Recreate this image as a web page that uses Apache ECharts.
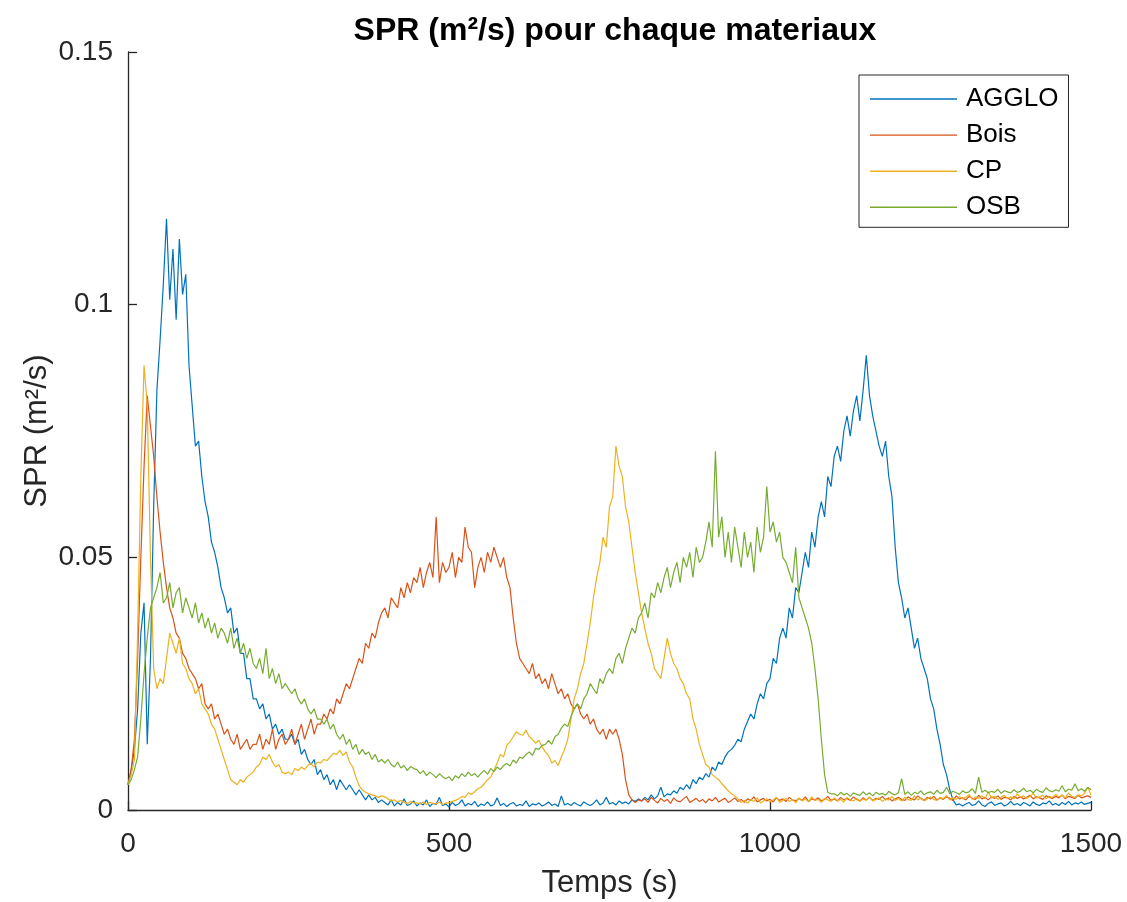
<!DOCTYPE html>
<html>
<head>
<meta charset="utf-8">
<script src="https://cdn.jsdelivr.net/npm/echarts@6/dist/echarts.min.js"></script>
<style>
html,body{margin:0;padding:0;background:#fff;}
#chart{width:1127px;height:902px;}
</style>
</head>
<body>
<div id="chart"></div>
<script>
// Sampling step of the time axis (s)
const TIME_STEP = 5;
const SERIES_NAMES = ['AGGLO', 'Bois', 'CP', 'OSB'];
const X_TICKS = [0, 500, 1000, 1500];
const Y_TICKS = [0, 0.05, 0.1, 0.15];

const AGGLO = [
0.005,0.008,0.012,0.02,0.035,0.041,0.013,0.03,0.06,0.083,
0.093,0.104,0.117,0.101,0.111,0.097,0.113,0.102,0.106,0.088,
0.080,0.072,0.073,0.066,0.061,0.058,0.053,0.051,0.048,0.044,
0.042,0.039,0.040,0.035,0.036,0.031,0.031,0.026,0.026,0.022,
0.022,0.020,0.021,0.018,0.019,0.016,0.017,0.015,0.016,0.014,
0.014,0.015,0.013,0.014,0.011,0.012,0.010,0.009,0.010,0.007,
0.008,0.006,0.007,0.005,0.006,0.004,0.006,0.005,0.004,0.005,
0.004,0.003,0.004,0.003,0.002,0.003,0.002,0.0025,0.0015,0.002,
0.0015,0.001,0.002,0.0008,0.0015,0.001,0.0022,0.0009,0.0012,0.0018,
0.0008,0.0014,0.001,0.002,0.0007,0.0013,0.0011,0.0025,0.0009,0.0012,
0.0006,0.0015,0.0009,0.0012,0.002,0.0008,0.0013,0.001,0.0017,0.0007,
0.0012,0.0009,0.0016,0.0008,0.0011,0.0024,0.0009,0.0013,0.0007,0.0012,
0.0015,0.0008,0.0011,0.0009,0.0018,0.0007,0.0012,0.001,0.0014,0.0008,
0.0011,0.0016,0.0009,0.0012,0.0007,0.0028,0.001,0.0013,0.0009,0.0015,
0.0011,0.0008,0.0016,0.0012,0.0009,0.0013,0.002,0.001,0.0014,0.0025,
0.0012,0.0015,0.001,0.0018,0.0013,0.0016,0.0012,0.002,0.0017,0.0022,
0.0018,0.0025,0.002,0.003,0.0022,0.0028,0.0045,0.0026,0.0032,0.003,
0.0038,0.0033,0.0045,0.004,0.005,0.0042,0.006,0.0052,0.0065,0.006,
0.0072,0.0065,0.0085,0.0078,0.0095,0.009,0.0105,0.0115,0.012,0.0128,
0.014,0.0135,0.016,0.0175,0.019,0.018,0.021,0.023,0.022,0.025,
0.026,0.030,0.029,0.034,0.036,0.034,0.040,0.038,0.044,0.043,
0.047,0.051,0.048,0.055,0.052,0.058,0.061,0.058,0.066,0.064,
0.070,0.072,0.069,0.075,0.078,0.074,0.079,0.082,0.077,0.083,
0.090,0.082,0.078,0.075,0.072,0.070,0.073,0.066,0.062,0.052,
0.045,0.042,0.038,0.040,0.036,0.032,0.034,0.030,0.028,0.026,
0.022,0.020,0.016,0.013,0.009,0.007,0.004,0.002,0.001,0.0012,
0.0008,0.0012,0.0015,0.0009,0.0011,0.0018,0.001,0.0007,0.0013,0.0016,
0.0009,0.0012,0.0014,0.0008,0.0011,0.0017,0.001,0.0013,0.0009,0.0015,
0.0012,0.0008,0.0016,0.0011,0.0009,0.0014,0.0012,0.0018,0.001,0.0013,
0.0009,0.0015,0.0011,0.0017,0.001,0.0014,0.0012,0.0016,0.0011,0.0013,
0.0015
];

const BOIS = [
0.005,0.008,0.014,0.03,0.05,0.068,0.082,0.076,0.07,0.062,
0.055,0.049,0.044,0.040,0.038,0.035,0.034,0.031,0.030,0.028,
0.027,0.026,0.024,0.025,0.021,0.020,0.021,0.018,0.019,0.017,
0.015,0.016,0.014,0.013,0.015,0.012,0.013,0.014,0.012,0.013,
0.013,0.015,0.012,0.014,0.013,0.016,0.012,0.014,0.015,0.013,
0.014,0.016,0.013,0.015,0.017,0.014,0.016,0.018,0.015,0.017,
0.017,0.019,0.018,0.020,0.019,0.022,0.021,0.023,0.025,0.024,
0.026,0.028,0.030,0.029,0.033,0.032,0.035,0.034,0.037,0.039,
0.040,0.038,0.042,0.041,0.040,0.044,0.042,0.045,0.043,0.046,
0.045,0.048,0.044,0.047,0.049,0.046,0.058,0.045,0.049,0.047,
0.048,0.051,0.046,0.050,0.049,0.056,0.052,0.051,0.044,0.048,
0.050,0.047,0.051,0.049,0.052,0.050,0.048,0.050,0.046,0.044,
0.038,0.033,0.030,0.029,0.028,0.027,0.029,0.026,0.027,0.025,
0.026,0.024,0.027,0.025,0.023,0.024,0.022,0.023,0.021,0.020,
0.021,0.019,0.018,0.019,0.017,0.018,0.016,0.015,0.016,0.014,
0.016,0.015,0.016,0.014,0.011,0.006,0.003,0.002,0.0015,0.002,
0.0018,0.0022,0.0015,0.0025,0.0019,0.0014,0.0023,0.0017,0.0021,0.0013,
0.0024,0.0018,0.0016,0.0022,0.0027,0.0015,0.0019,0.0023,0.0017,0.0021,
0.0014,0.0022,0.0018,0.0025,0.0016,0.002,0.0023,0.0015,0.0019,0.0024,
0.0017,0.0021,0.0015,0.0022,0.0019,0.0026,0.0016,0.002,0.0023,0.0018,
0.0021,0.0016,0.0024,0.0019,0.0022,0.0017,0.0025,0.002,0.0018,0.0023,
0.0019,0.0026,0.0017,0.0022,0.002,0.0024,0.0018,0.0021,0.0027,0.0019,
0.0022,0.0018,0.0025,0.002,0.0023,0.0019,0.0026,0.0021,0.0018,0.0024,
0.002,0.0025,0.0019,0.0023,0.0021,0.0027,0.002,0.0024,0.0018,0.0022,
0.0025,0.0021,0.0019,0.0026,0.0022,0.002,0.0028,0.0023,0.0019,0.0025,
0.0022,0.0027,0.002,0.0024,0.0021,0.0026,0.0023,0.0019,0.0028,0.0022,
0.0024,0.002,0.0027,0.0023,0.0021,0.0029,0.0022,0.0025,0.002,0.0026,
0.0023,0.0028,0.0021,0.0025,0.0024,0.002,0.0027,0.0023,0.0026,0.0022,
0.0025,0.0029,0.0022,0.0026,0.0024,0.0021,0.0028,0.0025,0.0023,0.0027,
0.0024,0.003,0.0022,0.0027,0.0025,0.0023,0.0029,0.0024,0.0026,0.0028,
0.0025
];

const CP = [
0.005,0.007,0.01,0.035,0.066,0.088,0.08,0.05,0.028,0.024,
0.026,0.025,0.03,0.035,0.033,0.031,0.034,0.029,0.028,0.026,
0.025,0.023,0.024,0.021,0.020,0.019,0.017,0.016,0.014,0.012,
0.010,0.008,0.006,0.0055,0.005,0.006,0.0055,0.0065,0.007,0.0075,
0.0085,0.009,0.0105,0.01,0.011,0.0095,0.0085,0.009,0.0075,0.0072,
0.0075,0.007,0.0082,0.0078,0.0085,0.008,0.0088,0.0092,0.0085,0.0095,
0.0093,0.01,0.0098,0.0105,0.0112,0.011,0.0118,0.0108,0.0115,0.0095,
0.0085,0.0065,0.0048,0.004,0.0035,0.0032,0.003,0.0028,0.0025,0.0028,
0.0026,0.0022,0.0018,0.002,0.0016,0.0019,0.0015,0.0013,0.0017,0.0014,
0.0014,0.0012,0.0016,0.0011,0.0015,0.0013,0.0012,0.0016,0.0011,0.0014,
0.0014,0.0017,0.0019,0.0022,0.0027,0.0025,0.0034,0.0031,0.0036,0.0042,
0.0045,0.0052,0.006,0.0065,0.0078,0.0093,0.011,0.0105,0.0128,0.0135,
0.0145,0.0155,0.015,0.0148,0.0158,0.0145,0.014,0.0132,0.0138,0.0125,
0.0115,0.0108,0.0093,0.0098,0.0088,0.0105,0.012,0.014,0.018,0.022,
0.024,0.027,0.029,0.033,0.037,0.042,0.046,0.049,0.054,0.052,
0.060,0.062,0.072,0.068,0.066,0.060,0.057,0.052,0.047,0.043,
0.039,0.036,0.033,0.031,0.028,0.027,0.026,0.030,0.034,0.031,
0.029,0.028,0.026,0.025,0.023,0.022,0.018,0.016,0.013,0.011,
0.009,0.0085,0.007,0.0065,0.006,0.0052,0.0045,0.0038,0.0032,0.0028,
0.0022,0.0015,0.0019,0.0013,0.0021,0.0017,0.0024,0.0014,0.0018,0.0022,
0.0016,0.002,0.0025,0.0015,0.0019,0.0023,0.0017,0.0021,0.0014,0.0024,
0.0018,0.0022,0.0016,0.0026,0.0019,0.0021,0.0015,0.0023,0.002,0.0017,
0.0024,0.0018,0.0021,0.0016,0.0025,0.002,0.0018,0.0023,0.0017,0.0022,
0.0019,0.0026,0.0018,0.0021,0.0024,0.0017,0.0022,0.002,0.0027,0.0019,
0.0023,0.0018,0.0025,0.0021,0.0019,0.0028,0.002,0.0024,0.0018,0.0022,
0.0026,0.0021,0.0019,0.0025,0.0022,0.0029,0.002,0.0024,0.0021,0.0027,
0.0022,0.0025,0.0031,0.0021,0.0026,0.0023,0.0028,0.0022,0.0036,0.0024,
0.0027,0.0021,0.0025,0.0029,0.0023,0.0026,0.0022,0.0032,0.0025,0.0028,
0.0023,0.0027,0.0033,0.0024,0.0026,0.0029,0.0022,0.0027,0.0025,0.0031,
0.0026,0.0029,0.0024,0.0034,0.0027,0.0025,0.003,0.0028,0.0033,0.0045,
0.003
];

const OSB = [
0.005,0.006,0.008,0.0105,0.018,0.027,0.034,0.04,0.042,0.044,
0.047,0.041,0.042,0.045,0.040,0.043,0.044,0.039,0.042,0.040,
0.038,0.041,0.037,0.039,0.036,0.038,0.035,0.037,0.034,0.036,
0.035,0.033,0.036,0.032,0.034,0.031,0.033,0.030,0.032,0.029,
0.028,0.030,0.027,0.032,0.026,0.028,0.025,0.027,0.024,0.025,
0.024,0.023,0.024,0.022,0.021,0.022,0.020,0.019,0.020,0.018,
0.018,0.017,0.018,0.016,0.017,0.015,0.014,0.015,0.013,0.014,
0.012,0.013,0.011,0.012,0.011,0.0115,0.010,0.011,0.0095,0.010,
0.0093,0.010,0.009,0.0085,0.0095,0.0083,0.0088,0.0078,0.0086,0.0082,
0.008,0.0072,0.0078,0.0068,0.0075,0.007,0.0064,0.0072,0.0066,0.0062,
0.0066,0.0058,0.0068,0.0063,0.0072,0.0066,0.0075,0.0068,0.0072,0.0065,
0.0073,0.0078,0.0071,0.0082,0.0076,0.0085,0.008,0.0088,0.0092,0.0087,
0.0099,0.0093,0.0105,0.0102,0.011,0.0115,0.0108,0.0122,0.012,0.0128,
0.013,0.0138,0.013,0.0145,0.015,0.0162,0.017,0.0165,0.0185,0.02,
0.021,0.020,0.022,0.023,0.025,0.024,0.023,0.026,0.025,0.027,
0.028,0.027,0.030,0.031,0.029,0.032,0.034,0.036,0.035,0.038,
0.039,0.041,0.038,0.043,0.042,0.045,0.043,0.046,0.048,0.044,
0.047,0.049,0.045,0.050,0.048,0.051,0.046,0.052,0.049,0.050,
0.053,0.057,0.052,0.071,0.054,0.058,0.050,0.055,0.049,0.056,
0.052,0.048,0.055,0.050,0.053,0.047,0.056,0.051,0.054,0.064,
0.055,0.057,0.053,0.055,0.050,0.049,0.047,0.045,0.052,0.042,
0.040,0.038,0.036,0.033,0.028,0.022,0.014,0.007,0.0035,0.0032,
0.0032,0.0028,0.0035,0.003,0.0033,0.0027,0.0034,0.0031,0.0029,0.0036,
0.003,0.0034,0.0028,0.0035,0.0031,0.0033,0.0029,0.0037,0.0032,0.003,
0.0034,0.0062,0.0031,0.0036,0.0029,0.0035,0.0032,0.0038,0.003,0.0034,
0.0036,0.0031,0.0039,0.0033,0.0035,0.0045,0.0032,0.0037,0.0034,0.0031,
0.0038,0.0034,0.0036,0.0042,0.0033,0.0065,0.0035,0.0039,0.0034,0.0037,
0.0035,0.0041,0.0033,0.0038,0.0036,0.0034,0.004,0.0035,0.0037,0.0043,
0.0036,0.0039,0.0034,0.0041,0.0037,0.0035,0.0044,0.0038,0.0036,0.004,
0.0037,0.0048,0.0036,0.0041,0.0039,0.0052,0.0038,0.0042,0.0037,0.0045,
0.004
];

const COLORS = ['#0072BD', '#D95319', '#EDB120', '#77AC30'];
const VALUES = [AGGLO, BOIS, CP, OSB];
const FONT = '"Liberation Sans", Arial, Helvetica, sans-serif';
const INK = '#262626';

function toPairs(arr) {
  return arr.map((v, i) => [i * TIME_STEP, v]);
}

const chart = echarts.init(document.getElementById('chart'), null, {renderer: 'canvas'});
chart.setOption({
  animation: false,
  backgroundColor: '#fff',
  title: {
    text: 'SPR (m²/s) pour chaque materiaux',
    left: 610, top: 10, textAlign: 'center',
    textStyle: {fontFamily: FONT, fontSize: 32, fontWeight: 'bold', color: '#000'}
  },
  grid: {left: 128, right: 36, top: 52, bottom: 92, containLabel: false, outerBoundsMode: 'none'},
  legend: {
    orient: 'vertical',
    left: 859, top: 75,
    padding: [11, 10, 7, 11],
    icon: 'rect',
    itemWidth: 87, itemHeight: 1.4, itemGap: 10.1,
    borderColor: INK, borderWidth: 1, backgroundColor: '#fff',
    textStyle: {fontFamily: FONT, fontSize: 26, color: '#000', padding: [0, 0, 0, 4]},
    data: SERIES_NAMES
  },
  xAxis: {
    type: 'value', min: X_TICKS[0], max: X_TICKS[X_TICKS.length - 1], interval: 500,
    name: 'Temps (s)', nameLocation: 'middle', nameGap: 58, nameMoveOverlap: false,
    nameTextStyle: {fontFamily: FONT, fontSize: 31, color: INK},
    axisLine: {lineStyle: {color: INK, width: 1.3}},
    axisTick: {inside: true, length: 9, lineStyle: {color: INK, width: 1.3}},
    axisLabel: {fontFamily: FONT, fontSize: 28, color: INK, margin: 20,
      formatter: v => String(v)},
    splitLine: {show: false}
  },
  yAxis: {
    type: 'value', min: Y_TICKS[0], max: Y_TICKS[Y_TICKS.length - 1], interval: 0.05,
    name: 'SPR (m²/s)', nameLocation: 'middle', nameGap: 75, nameMoveOverlap: false,
    nameTextStyle: {fontFamily: FONT, fontSize: 31, color: INK},
    axisLine: {show: true, lineStyle: {color: INK, width: 1.3}},
    axisTick: {show: true, inside: true, length: 9, lineStyle: {color: INK, width: 1.3}},
    axisLabel: {fontFamily: FONT, fontSize: 28, color: INK, margin: 15,
      formatter: v => String(Math.round(v * 100) / 100)},
    splitLine: {show: false}
  },
  series: SERIES_NAMES.map((name, k) => ({
    name, type: 'line', data: toPairs(VALUES[k]),
    symbol: 'none', showSymbol: false,
    lineStyle: {color: COLORS[k], width: 1.2},
    itemStyle: {color: COLORS[k]},
    emphasis: {disabled: true}
  }))
});
</script>
</body>
</html>
